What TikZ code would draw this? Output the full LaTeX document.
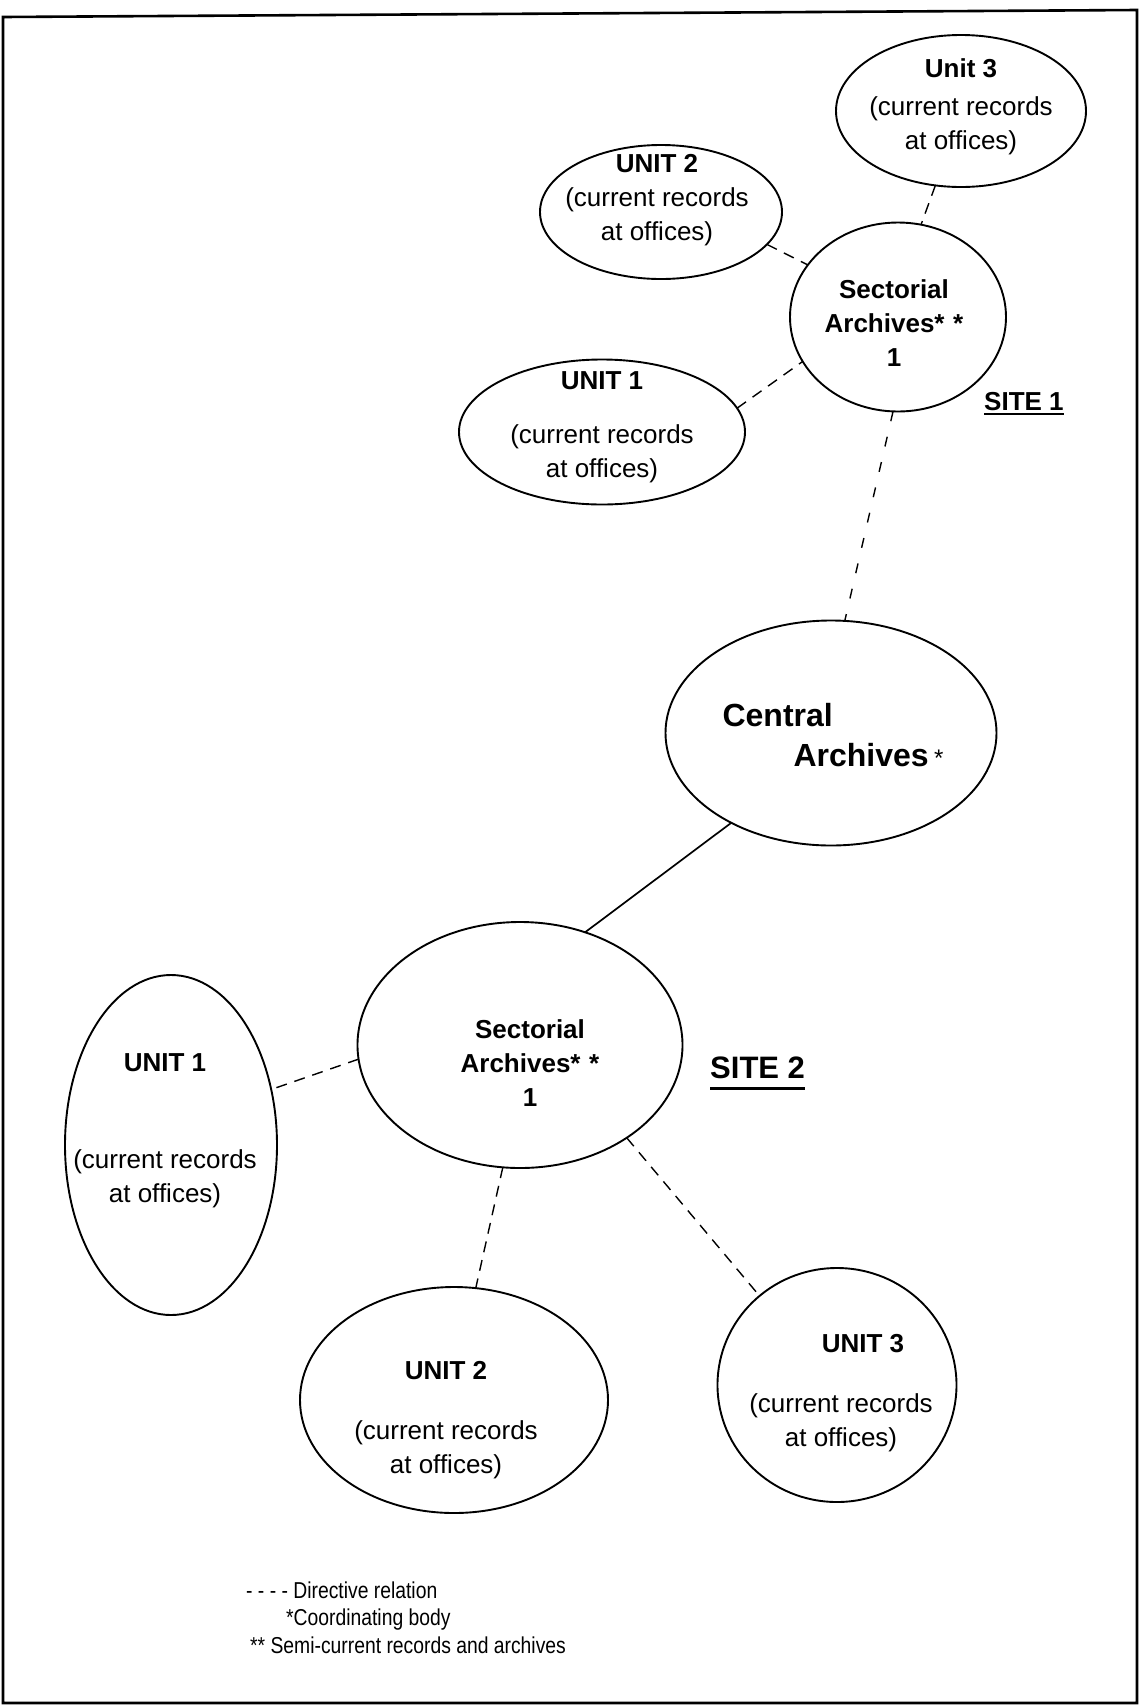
\documentclass[tikz,border=0pt]{standalone}
\usepackage{fontspec}
\setmainfont{Liberation Sans}
\newfontfamily\legendfont[FakeStretch=0.84]{Liberation Sans}
\usetikzlibrary{shapes.geometric}
\newcommand{\ulsite}[3]{\setbox0\hbox{#1}\rlap{\rule[#2]{\wd0}{#3}}\box0}

\begin{document}
\begin{tikzpicture}[x=1pt,y=-1pt,
    unit/.style={ellipse,draw,line width=1.9pt,inner sep=0pt,outer sep=0pt},
    txt/.style={align=center,inner sep=0pt,font=\fontsize{26}{34}\selectfont},
    dirrel/.style={line width=1.4pt,dash pattern=on 11pt off 8pt},
    site/.style={anchor=base west,inner sep=0pt},
    legend/.style={anchor=base west,inner sep=0pt,font=\legendfont\fontsize{23}{28}\selectfont}]
  \useasboundingbox (0,0) rectangle (1139,1706);
  \draw[line width=2.6pt] (3,17) -- (1137,10) -- (1137,1703) -- (3,1703) -- cycle;

  % site 1
  \node[unit,minimum width=250pt,minimum height=152pt,
    label={[txt,name=u3atxt,yshift=4pt]center:{\textbf{Unit 3}\\[4pt](current records\\at offices)}}] (u3a) at (961,111) {};
  \node[unit,minimum width=242pt,minimum height=134pt,
    label={[txt,name=u2atxt,yshift=12pt,xshift=-4pt]center:{\textbf{UNIT 2}\\(current records\\at offices)}}] (u2a) at (661,212) {};
  \node[unit,minimum width=216pt,minimum height=189pt,
    label={[txt,name=sa1txt,yshift=-6pt,xshift=-4pt]center:{\textbf{Sectorial}\\\textbf{Archives*\,\,*}\\\textbf{1}}}] (sa1) at (898,317) {};
  \node[unit,minimum width=286pt,minimum height=145pt,
    label={[txt,name=u1atxt,yshift=5pt]center:{\textbf{UNIT 1}\\[20pt](current records\\at offices)}}] (u1a) at (602,432) {};
  \node[site,font=\bfseries\fontsize{26}{30}\selectfont] (site1) at (984,410) {\ulsite{SITE 1}{-5pt}{2.5pt}};

  % central
  \node[unit,minimum width=331pt,minimum height=225pt,
    label={[txt,name=catxt,align=left,font=\bfseries\fontsize{32}{40}\selectfont,xshift=2pt,yshift=-2pt]center:{Central\\\hspace*{71pt}Archives\,{\mdseries\fontsize{24}{24}\selectfont *}}}] (ca) at (831,733) {};

  % site 2
  \node[unit,minimum width=325pt,minimum height=246pt,
    label={[txt,name=sbtxt,yshift=-18pt,xshift=10pt]center:{\textbf{Sectorial}\\\textbf{Archives*\,\,*}\\\textbf{1}}}] (sb) at (520,1045) {};
  \node[unit,minimum width=212pt,minimum height=340pt,
    label={[txt,name=u1btxt,yshift=14pt,xshift=-6pt]center:{\textbf{UNIT 1}\\[63pt](current records\\at offices)}}] (u1b) at (171,1145) {};
  \node[unit,minimum width=308pt,minimum height=226pt,
    label={[txt,name=u2btxt,yshift=-20pt,xshift=-8pt]center:{\textbf{UNIT 2}\\[26pt](current records\\at offices)}}] (u2b) at (454,1400) {};
  \node[unit,minimum width=239pt,minimum height=234pt,
    label={[txt,name=u3btxt,yshift=-8pt,xshift=4pt]center:{\hspace*{44pt}\textbf{UNIT 3}\\[26pt](current records\\at offices)}}] (u3b) at (837,1385) {};
  \node[site,font=\bfseries\fontsize{31}{36}\selectfont] (site2) at (710,1078) {\ulsite{SITE 2}{-12pt}{3pt}};

  % relations
  \draw[dirrel] (u3a.251) -- (sa1.76);
  \draw[dirrel] (u2a.343) -- (sa1.150);
  \draw[dirrel] (u1a.10) -- (sa1.205);
  \draw[dirrel,dash pattern=on 10pt off 16pt] (sa1.267) -- (ca.83);
  \draw[line width=1.7pt] (ca.222) -- (sb.60);
  \draw[dirrel] (sb.185) -- (u1b.29);
  \draw[dirrel] (sb.262) -- (u2b.79);
  \draw[dirrel] (sb.319) -- (u3b.131);

  % legend
  \node[legend] (leg1) at (246,1598) {- - - - Directive relation};
  \node[legend] (leg2) at (286,1625) {*Coordinating body};
  \node[legend] (leg3) at (250,1653) {** Semi-current records and archives};
\end{tikzpicture}
\end{document}
